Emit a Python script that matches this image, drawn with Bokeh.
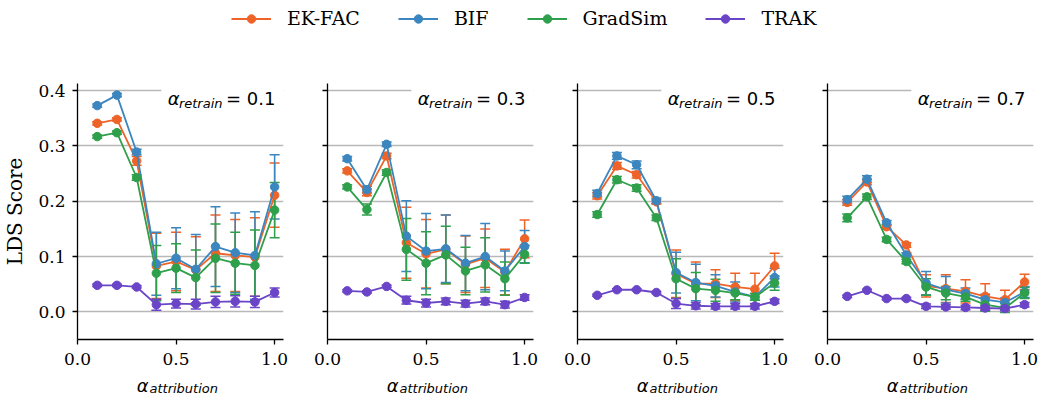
from bokeh.plotting import figure
from bokeh.models import (ColumnDataSource, Whisker, TeeHead, Range1d, FixedTicker,
                          Legend, LegendItem, Label, BoxAnnotation,
                          CustomJSTickFormatter, PrintfTickFormatter)
from bokeh.layouts import column, row
from bokeh.embed import file_html
from bokeh.resources import INLINE

# ---------------- data ----------------
alpha_attribution = [0.1, 0.2, 0.3, 0.4, 0.5, 0.6, 0.7, 0.8, 0.9, 1.0]
alpha_retrain = ["0.1", "0.3", "0.5", "0.7"]
methods = ["EK-FAC", "BIF", "GradSim", "TRAK"]
y_ticks = [0.0, 0.1, 0.2, 0.3, 0.4]
x_ticks = [0.0, 0.5, 1.0]

# one row per alpha_retrain panel
ekfac_mean = [
    [0.341, 0.348, 0.273, 0.083, 0.091, 0.076, 0.106, 0.102, 0.099, 0.211],
    [0.255, 0.216, 0.282, 0.125, 0.105, 0.113, 0.086, 0.097, 0.072, 0.132],
    [0.210, 0.264, 0.248, 0.199, 0.069, 0.051, 0.051, 0.045, 0.041, 0.083],
    [0.198, 0.235, 0.154, 0.121, 0.047, 0.042, 0.037, 0.028, 0.022, 0.054],
]
ekfac_err = [
    [0.003, 0.003, 0.008, 0.059, 0.053, 0.060, 0.069, 0.065, 0.071, 0.058],
    [0.004, 0.006, 0.005, 0.064, 0.062, 0.062, 0.051, 0.053, 0.041, 0.034],
    [0.006, 0.006, 0.006, 0.004, 0.043, 0.039, 0.025, 0.025, 0.029, 0.023],
    [0.005, 0.005, 0.004, 0.004, 0.020, 0.025, 0.021, 0.023, 0.017, 0.014],
]
bif_mean = [
    [0.373, 0.392, 0.289, 0.087, 0.097, 0.077, 0.118, 0.107, 0.102, 0.226],
    [0.277, 0.221, 0.303, 0.137, 0.110, 0.114, 0.088, 0.100, 0.074, 0.118],
    [0.214, 0.282, 0.266, 0.201, 0.071, 0.053, 0.047, 0.036, 0.027, 0.062],
    [0.203, 0.240, 0.161, 0.103, 0.052, 0.040, 0.033, 0.022, 0.017, 0.036],
]
bif_err = [
    [0.003, 0.003, 0.005, 0.057, 0.055, 0.063, 0.072, 0.072, 0.079, 0.058],
    [0.004, 0.006, 0.004, 0.064, 0.068, 0.061, 0.050, 0.060, 0.036, 0.029],
    [0.006, 0.006, 0.007, 0.005, 0.037, 0.033, 0.020, 0.018, 0.006, 0.017],
    [0.006, 0.006, 0.004, 0.004, 0.021, 0.024, 0.010, 0.010, 0.008, 0.010],
]
gradsim_mean = [
    [0.317, 0.324, 0.243, 0.070, 0.079, 0.062, 0.097, 0.088, 0.084, 0.184],
    [0.226, 0.185, 0.252, 0.113, 0.088, 0.103, 0.074, 0.085, 0.060, 0.104],
    [0.176, 0.239, 0.224, 0.170, 0.060, 0.042, 0.039, 0.034, 0.027, 0.052],
    [0.170, 0.208, 0.131, 0.091, 0.045, 0.034, 0.027, 0.013, 0.007, 0.034],
]
gradsim_err = [
    [0.003, 0.003, 0.005, 0.050, 0.044, 0.050, 0.062, 0.056, 0.064, 0.050],
    [0.004, 0.010, 0.005, 0.056, 0.057, 0.052, 0.043, 0.049, 0.030, 0.016],
    [0.005, 0.006, 0.006, 0.005, 0.036, 0.029, 0.020, 0.012, 0.006, 0.013],
    [0.007, 0.005, 0.004, 0.004, 0.015, 0.012, 0.008, 0.012, 0.008, 0.010],
]
trak_mean = [
    [0.048, 0.048, 0.045, 0.013, 0.015, 0.014, 0.018, 0.019, 0.018, 0.035],
    [0.038, 0.036, 0.046, 0.021, 0.016, 0.019, 0.015, 0.019, 0.013, 0.026],
    [0.030, 0.040, 0.040, 0.035, 0.015, 0.011, 0.010, 0.010, 0.010, 0.019],
    [0.028, 0.039, 0.024, 0.024, 0.010, 0.009, 0.008, 0.007, 0.006, 0.013],
]
trak_err = [
    [0.002, 0.002, 0.002, 0.010, 0.008, 0.009, 0.010, 0.010, 0.010, 0.008],
    [0.002, 0.002, 0.002, 0.007, 0.007, 0.006, 0.006, 0.006, 0.006, 0.005],
    [0.002, 0.002, 0.002, 0.002, 0.009, 0.006, 0.005, 0.005, 0.005, 0.004],
    [0.002, 0.002, 0.002, 0.002, 0.004, 0.004, 0.004, 0.004, 0.004, 0.004],
]

series_means = [ekfac_mean, bif_mean, gradsim_mean, trak_mean]
series_errs = [ekfac_err, bif_err, gradsim_err, trak_err]
colors = ["#EE6328", "#3C86BF", "#2E9F4A", "#6B45C8"]

SERIF = "DejaVu Serif"
SANS = "DejaVu Sans"
X0, X1 = 0.0, 1.045
Y0, Y1 = -0.05, 0.413

LEGEND_H = 40
TOP, FRAME_H, BOTTOM = 43, 256, 33
STRIP_H = 394 - LEGEND_H - (TOP + FRAME_H + BOTTOM)   # 22


def borders(k):
    return (76 if k == 0 else 22), (7 if k == 3 else 22)


figs = []
for k, ar in enumerate(alpha_retrain):
    left, right = borders(k)
    p = figure(frame_width=206, frame_height=FRAME_H,
               min_border_left=left, min_border_right=right,
               min_border_top=TOP, min_border_bottom=BOTTOM,
               x_range=Range1d(X0, X1), y_range=Range1d(Y0, Y1),
               output_backend="svg", toolbar_location=None)
    p.outline_line_color = None
    p.background_fill_color = "white"
    p.border_fill_color = "white"
    p.xgrid.visible = False
    p.ygrid.grid_line_color = "#b8b8b8"
    p.ygrid.grid_line_width = 1.3
    p.ygrid.ticker = FixedTicker(ticks=y_ticks)

    p.xaxis.ticker = FixedTicker(ticks=x_ticks)
    p.yaxis.ticker = FixedTicker(ticks=y_ticks)
    p.xaxis.formatter = PrintfTickFormatter(format="%.1f")
    p.xaxis.axis_label_standoff = 0
    if k == 0:
        p.yaxis.formatter = PrintfTickFormatter(format="%.1f")
        p.yaxis.axis_label = "LDS Score"
        p.yaxis.axis_label_text_font = SERIF
        p.yaxis.axis_label_text_font_size = "20px"
        p.yaxis.axis_label_text_font_style = "normal"
        p.yaxis.axis_label_text_color = "black"
        p.yaxis.axis_label_standoff = 8
    else:
        p.yaxis.formatter = CustomJSTickFormatter(code="return ''")
    for ax in (p.xaxis, p.yaxis):
        ax.axis_line_width = 1.3
        ax.axis_line_color = "black"
        ax.major_tick_line_width = 1.3
        ax.major_tick_line_color = "black"
        ax.major_tick_out = 5
        ax.major_tick_in = 0
        ax.minor_tick_line_color = None
        ax.major_label_text_font = SERIF
        ax.major_label_text_font_size = "17px"
        ax.major_label_text_color = "black"
    p.yaxis.major_label_standoff = 7
    p.xaxis.major_label_standoff = 8

    for name, means, errs, c in zip(methods, series_means, series_errs, colors):
        m = means[k]
        e = errs[k]
        src = ColumnDataSource(dict(
            x=alpha_attribution, y=m,
            upper=[a + b for a, b in zip(m, e)],
            lower=[a - b for a, b in zip(m, e)]))
        p.line("x", "y", source=src, line_color=c, line_width=1.8)
        p.scatter("x", "y", source=src, size=8.5, fill_color=c, line_color=c)
        w = Whisker(source=src, base="x", upper="upper", lower="lower",
                    dimension="height", line_color=c, line_width=1.5,
                    upper_head=TeeHead(size=10, line_color=c, line_width=1.5),
                    lower_head=TeeHead(size=10, line_color=c, line_width=1.5))
        p.add_layout(w)

    # annotation box + text  (alpha_retrain = ...)
    p.add_layout(BoxAnnotation(left=0.425, right=X1, bottom=0.385, top=Y1,
                               fill_color="white", fill_alpha=1.0, line_color=None))
    p.add_layout(Label(x=X1, y=Y1, x_offset=-8, y_offset=-15, text="= " + ar,
                       text_align="right", text_baseline="alphabetic",
                       text_font=SANS, text_font_size="18px", text_color="black"))
    p.add_layout(Label(x=X1, y=Y1, x_offset=-61, y_offset=-20, text="retrain",
                       text_align="right", text_baseline="alphabetic",
                       text_font=SANS, text_font_style="italic",
                       text_font_size="13px", text_color="black"))
    p.add_layout(Label(x=X1, y=Y1, x_offset=-104, y_offset=-15, text="α",
                       text_align="right", text_baseline="alphabetic",
                       text_font=SANS, text_font_style="italic",
                       text_font_size="18px", text_color="black"))
    figs.append(p)

# ---------------- x-axis label strip (alpha_attribution) ----------------
label_figs = []
for k in range(4):
    left, right = borders(k)
    q = figure(frame_width=206, frame_height=STRIP_H,
               min_border_left=left, min_border_right=right,
               min_border_top=0, min_border_bottom=0,
               x_range=Range1d(X0, X1), y_range=Range1d(0, STRIP_H),
               x_axis_type=None, y_axis_type=None,
               output_backend="svg", toolbar_location=None)
    q.outline_line_color = None
    xc = (X0 + X1) / 2
    q.add_layout(Label(x=xc, y=9, x_offset=-31, text="α",
                       text_align="right", text_baseline="alphabetic",
                       text_font=SANS, text_font_style="italic",
                       text_font_size="18px", text_color="black"))
    q.add_layout(Label(x=xc, y=6, x_offset=-30, text="attribution",
                       text_align="left", text_baseline="alphabetic",
                       text_font=SANS, text_font_style="italic",
                       text_font_size="13px", text_color="black"))
    label_figs.append(q)

# ---------------- legend ----------------
lp = figure(width=1039, height=LEGEND_H, x_range=Range1d(0, 1), y_range=Range1d(10, 11),
            x_axis_type=None, y_axis_type=None, output_backend="svg",
            toolbar_location=None, min_border=0)
lp.outline_line_color = None
items = []
for name, means, c in zip(methods, series_means, colors):
    lr = lp.line(x=alpha_attribution, y=means[0], line_color=c, line_width=1.8)
    sr = lp.scatter(x=alpha_attribution, y=means[0], size=8, fill_color=c, line_color=c)
    items.append(LegendItem(label=name, renderers=[lr, sr]))
legend = Legend(items=items, orientation="horizontal", location=(231, 11),
                glyph_width=40, glyph_height=21, label_standoff=16, spacing=38,
                padding=0, margin=0, border_line_color=None,
                background_fill_alpha=0.0,
                label_text_font=SERIF, label_text_font_size="19px",
                label_text_color="black")
lp.add_layout(legend, "center")

layout = column(lp, row(*figs, spacing=0), row(*label_figs, spacing=0), spacing=0)
open("out.html", "w").write(file_html(layout, INLINE))
